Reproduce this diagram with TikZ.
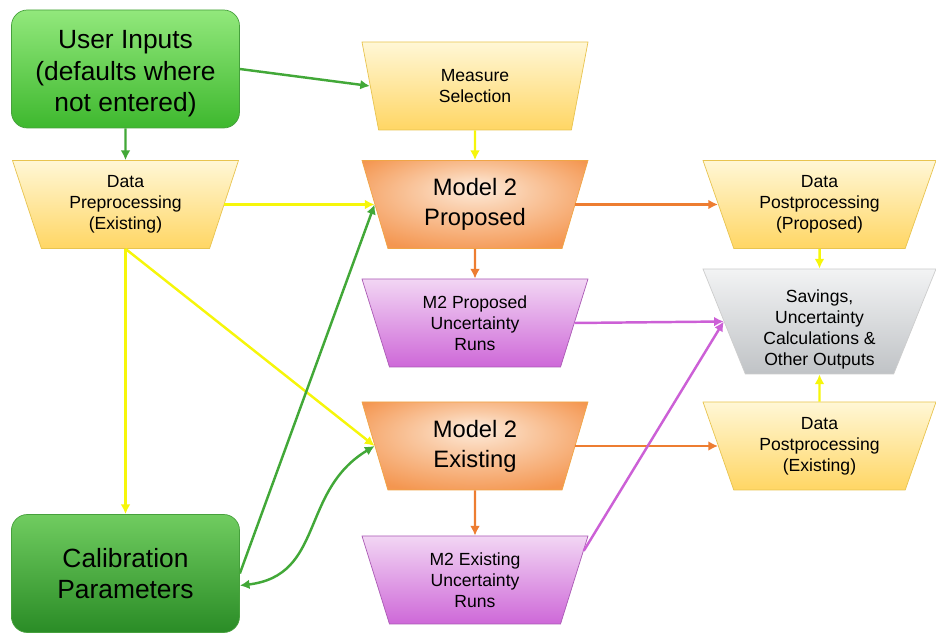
\documentclass[tikz,border=0pt]{standalone}
\usepackage{fontspec}
\setmainfont{Liberation Sans}
\usetikzlibrary{shapes.geometric,arrows.meta,calc}

\definecolor{inputgreen}{RGB}{146,232,124}
\definecolor{inputgreendk}{RGB}{62,184,46}
\definecolor{calgreen}{RGB}{112,204,96}
\definecolor{calgreendk}{RGB}{42,140,38}
\definecolor{greenedge}{RGB}{70,160,60}
\definecolor{creamtop}{RGB}{255,247,214}
\definecolor{creambot}{RGB}{255,214,100}
\definecolor{creamedge}{RGB}{232,196,80}
\definecolor{orangemid}{RGB}{253,236,220}
\definecolor{orangeout}{RGB}{244,150,80}
\definecolor{orangeedge}{RGB}{240,165,70}
\definecolor{runtop}{RGB}{242,214,244}
\definecolor{runbot}{RGB}{206,104,216}
\definecolor{runedge}{RGB}{170,90,180}
\definecolor{outtop}{RGB}{242,243,244}
\definecolor{outbot}{RGB}{192,195,198}
\definecolor{outedge}{RGB}{205,205,205}
\definecolor{linkgreen}{RGB}{66,168,56}
\definecolor{linkyellow}{RGB}{246,246,10}
\definecolor{linkorange}{RGB}{237,125,49}
\definecolor{linkviolet}{RGB}{204,96,214}

\pgfdeclareradialshading{modelglow}{\pgfpoint{0bp}{10bp}}{color(0bp)=(orangemid); color(12bp)=(orangemid!60!orangeout); color(32bp)=(orangeout); color(50bp)=(orangeout)}

\begin{document}
\begin{tikzpicture}[
    bigbox/.style={rectangle, rounded corners=9pt, draw=greenedge, thin, minimum width=4.56cm, minimum height=2.36cm, align=center, font=\fontsize{15}{18}\selectfont},
    funnel/.style={trapezium, shape border rotate=180, trapezium stretches body, trapezium angle=63.5, minimum width=4.52cm, minimum height=1.76cm, inner sep=0pt, thin, align=center, font=\fontsize{10}{12}\selectfont},
    wide/.style={minimum width=4.66cm, trapezium angle=62},
    databox/.style={funnel, top color=creamtop, bottom color=creambot, draw=creamedge},
    modelbox/.style={funnel, shading=modelglow, draw=orangeedge, font=\fontsize{13.5}{17}\selectfont},
    runbox/.style={funnel, top color=runtop, bottom color=runbot, draw=runedge},
    outbox/.style={funnel, wide, top color=outtop, bottom color=outbot, draw=outedge},
    link/.style={-{Latex[length=5.5pt,width=5.5pt]}, line width=1.4pt},
  ]
      \useasboundingbox (0,0) rectangle (18.72,-12.68);
      \node (ui) [bigbox, top color=inputgreen, bottom color=inputgreendk] at (2.51,-1.38) {\rule{0pt}{16pt}User Inputs\\(defaults where\\not entered)};
      \node (cal) [bigbox, top color=calgreen, bottom color=calgreendk] at (2.51,-11.47) {Calibration\\Parameters};
      \node (dpe) [databox] at (2.51,-4.09) {Data\\Preprocessing\\(Existing)};
      \node (ms) [databox] at (9.5,-1.72) {Measure\\Selection};
      \node (mp) [modelbox] at (9.5,-4.09) {Model 2\\Proposed};
      \node (m2p) [runbox] at (9.5,-6.46) {M2 Proposed\\Uncertainty\\Runs};
      \node (me) [modelbox] at (9.5,-8.92) {Model 2\\Existing};
      \node (m2e) [runbox] at (9.5,-11.6) {M2 Existing\\Uncertainty\\Runs};
      \node (dpp) [databox, wide] at (16.39,-4.09) {Data\\Postprocessing\\(Proposed)};
      \node (sav) [outbox, minimum height=2.1cm, trapezium angle=66] at (16.39,-6.43) {\rule{0pt}{16pt}Savings,\\Uncertainty\\Calculations \&\\Other Outputs};
      \node (dpx) [databox, wide] at (16.39,-8.92) {Data\\Postprocessing\\(Existing)};

      \draw [link, linkgreen] (ui) -- (dpe);
      \draw [link, linkgreen] (ui.east) -- (ms.180);
      \draw [link, linkyellow] (ms) -- (mp);
      \draw [link, linkyellow] (dpe.0) -- (mp.180);
      \draw [link, linkyellow] (dpe.270) -- (cal);
      \draw [link, linkyellow] (dpe.270) -- (me.180);
      \draw [link, linkgreen] (cal.east) -- (mp.180);
      \draw [link, linkgreen, {Latex[length=5.5pt,width=5.5pt]}-{Latex[length=5.5pt,width=5.5pt]}] (cal.-6) .. controls +(1.7,0.2) and +(-1.5,-0.9) .. (me.180);
      \foreach \a/\b in {mp/m2p, me/m2e}{
        \draw [link, linkorange] (\a) -- (\b);
      }
      \draw [link, linkorange] (mp.0) -- (dpp.180);
      \draw [link, linkorange] (me.0) -- (dpx.180);
      \draw [link, linkviolet] (m2p.0) -- (sav.180);
      \draw [link, linkviolet] (m2e.15) -- (sav.180);
      \draw [link, linkyellow] (dpp) -- (sav);
      \draw [link, linkyellow] (dpx) -- (sav);
\end{tikzpicture}
\end{document}
